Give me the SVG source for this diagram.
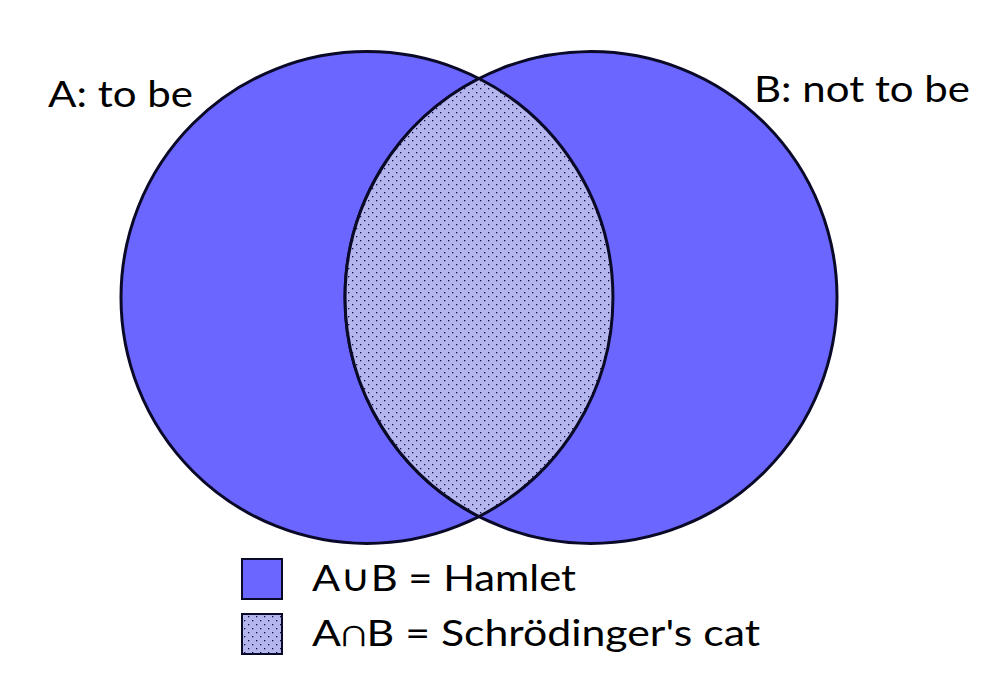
<svg xmlns="http://www.w3.org/2000/svg" width="1000" height="683" viewBox="0 0 1000 683">
<style>
.set{fill:#6a66ff;stroke:#0a0a28;stroke-width:3}
.lens{fill:url(#dots);stroke:#0a0a28;stroke-width:3}
.box{stroke:#0a0a28;stroke-width:2}
.lbl{font-family:Lato,"Liberation Sans","DejaVu Sans",sans-serif;font-size:37px;fill:#000}
</style>
<defs>
<pattern id="dots" patternUnits="userSpaceOnUse" width="8" height="8">
<rect width="8" height="8" fill="#b6b6ee"/>
<rect x="0" y="0" width="1.3" height="1.3" fill="#10104a"/>
<rect x="4" y="4" width="1.3" height="1.3" fill="#10104a"/>
</pattern>
</defs>
<rect width="1000" height="683" fill="#fff"/>
<g id="setA"><circle class="set" cx="367" cy="297.5" r="246"/></g>
<g id="setB"><circle class="set" cx="591" cy="297.5" r="246"/></g>
<g id="intersection"><path class="lens" d="M479,78.5 A246,246 0 0,0 479,516.5 A246,246 0 0,0 479,78.5 Z"/></g>
<g id="labelA"><text class="lbl" x="48" y="107" textLength="145" lengthAdjust="spacingAndGlyphs">A: to be</text></g>
<g id="labelB"><text class="lbl" x="754" y="102" textLength="216" lengthAdjust="spacingAndGlyphs">B: not to be</text></g>
<g id="legendUnion">
<rect class="box" x="242" y="559" width="40" height="40" fill="#6a66ff"/>
<text class="lbl" x="312" y="591" textLength="264" lengthAdjust="spacingAndGlyphs">A∪B = Hamlet</text>
</g>
<g id="legendIntersection">
<rect class="box" x="242" y="614" width="40" height="40" fill="url(#dots)"/>
<text class="lbl" x="312" y="646" textLength="448" lengthAdjust="spacingAndGlyphs">A∩B = Schrödinger's cat</text>
</g>
<g id="connectors"/>
</svg>
